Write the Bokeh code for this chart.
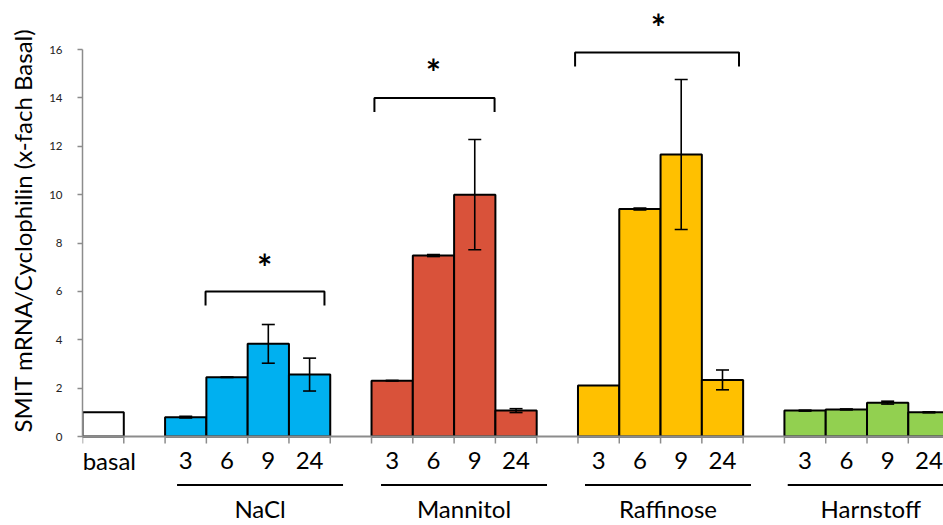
from bokeh.plotting import figure
from bokeh.models import Range1d, FixedTicker, Title
from bokeh.core.properties import value
from bokeh.embed import file_html
from bokeh.resources import INLINE

# ---------------- data ----------------
groups = ["NaCl", "Mannitol", "Raffinose", "Harnstoff"]
times = ["3", "6", "9", "24"]
basal_label = "basal"
basal_value = 1.0

nacl = [0.80, 2.45, 3.83, 2.56]
nacl_err = [0.03, 0.01, 0.80, 0.68]
mannitol = [2.31, 7.48, 10.00, 1.07]
mannitol_err = [0.01, 0.04, 2.28, 0.08]
raffinose = [2.11, 9.41, 11.66, 2.34]
raffinose_err = [0.00, 0.04, 3.10, 0.41]
harnstoff = [1.07, 1.12, 1.40, 1.00]
harnstoff_err = [0.02, 0.02, 0.06, 0.02]

y_ticks = [0, 2, 4, 6, 8, 10, 12, 14, 16]
y_label = "SMIT mRNA/Cyclophilin (x-fach Basal)"
sig_mark = "*"

# significance brackets (x in slot units, y in data units)
brackets = [
    dict(x0=2.98, x1=5.86, y=6.00, star_x=4.41, star_y=7.28),
    dict(x0=7.07, x1=9.98, y=14.00, star_x=8.50, star_y=15.34),
    dict(x0=11.93, x1=15.90, y=15.88, star_x=13.95, star_y=17.20),
]
group_line_offsets = [0.29, 0.23, 0.17, 0.08]

# ---------------- layout constants ----------------
W, H = 943, 525
LEFT = 82           # frame left edge (px)
SW = 41.29          # slot width (px)
AX_Y = 436          # y pixel of value 0
PX = (436 - 49) / 16.0  # px per unit

FONT = "Lato"
colors = ["#00B0F0", "#D9523A", "#FFC000", "#92D050"]
AXIS_COL = "#8C8C8C"

def py(pix):
    """convert canvas pixel y to data value"""
    return (AX_Y - pix) / PX

x_range = Range1d(0, (W - LEFT) / SW)
y_range = Range1d(py(H), py(0))

p = figure(width=W, height=H, x_range=x_range, y_range=y_range,
           output_backend="svg", toolbar_location=None, x_axis_type=None,
           min_border_left=LEFT, min_border_right=0, min_border_top=0,
           min_border_bottom=0)
p.outline_line_color = None
p.grid.visible = False
p.background_fill_color = "white"
p.border_fill_color = "white"

# y axis
ya = p.yaxis[0]
ya.bounds = (0, 16)
ya.ticker = FixedTicker(ticks=y_ticks)
ya.major_tick_out = 5
ya.major_tick_in = 0
ya.minor_tick_out = 0
ya.minor_tick_in = 0
ya.axis_line_color = AXIS_COL
ya.axis_line_width = 1.5
ya.major_tick_line_color = AXIS_COL
ya.major_tick_line_width = 1.5
ya.major_label_text_font = FONT
ya.major_label_text_font_size = "11.5px"
ya.major_label_text_color = "#222222"
ya.major_label_standoff = 15

# y axis title as a left-side title
p.add_layout(Title(text=y_label, align="left", offset=93,
                   vertical_align="top",
                   text_font=FONT, text_font_size="24px",
                   text_font_style="normal", text_color="black",
                   standoff=15), "left")

# ---------------- bars ----------------
series = [nacl, mannitol, raffinose, harnstoff]
errs = [nacl_err, mannitol_err, raffinose_err, harnstoff_err]

left = [0.0]
right = [1.0]
top = [basal_value]
fill = ["white"]
ex, elo, ehi = [], [], []
cat_x, cat_t = [0.65], [basal_label]
for g, (vals, er) in enumerate(zip(series, errs)):
    start = 2 + 5 * g
    for i, (v, e) in enumerate(zip(vals, er)):
        left.append(start + i)
        right.append(start + i + 1)
        top.append(v)
        fill.append(colors[g])
        cat_x.append(start + i + 0.5)
        cat_t.append(times[i])
        if e > 0:
            ex.append(start + i + 0.5)
            elo.append(v - e)
            ehi.append(v + e)

p.quad(left=left, right=right, bottom=0, top=top, fill_color=fill,
       line_color="black", line_width=2)

# error bars
cap = 6.5 / SW
p.segment(x0=ex, x1=ex, y0=elo, y1=ehi, line_color="black", line_width=1.6)
p.segment(x0=[x - cap for x in ex], x1=[x + cap for x in ex], y0=elo, y1=elo,
          line_color="black", line_width=1.6)
p.segment(x0=[x - cap for x in ex], x1=[x + cap for x in ex], y0=ehi, y1=ehi,
          line_color="black", line_width=1.6)

# x baseline and tick marks
n_slots = 21
p.segment(x0=[0], x1=[n_slots], y0=[0], y1=[0], line_color=AXIS_COL, line_width=1.8)
tx = list(range(n_slots))
p.segment(x0=tx, x1=tx, y0=[0] * n_slots, y1=[-7 / PX] * n_slots,
          line_color=AXIS_COL, line_width=1.5)

# category labels
p.text(x=cat_x, y=[py(460)] * len(cat_x), text=cat_t, text_font=value(FONT),
       text_font_size="24px", text_align="center", text_baseline="middle",
       text_color="black")

# group lines and labels
gl_x0, gl_x1, gc = [], [], []
for g, off in enumerate(group_line_offsets):
    s = 2 + 5 * g + off
    gl_x0.append(s)
    gl_x1.append(s + 4.02)
    gc.append(s + 2.01)
p.segment(x0=gl_x0, x1=gl_x1, y0=[py(484.5)] * 4, y1=[py(484.5)] * 4,
          line_color="black", line_width=2)
p.text(x=gc, y=[py(508)] * 4, text=groups, text_font=value(FONT),
       text_font_size="24px", text_align="center", text_baseline="middle",
       text_color="black")

# significance brackets
leg = 14 / PX
for b in brackets:
    p.line(x=[b["x0"], b["x0"], b["x1"], b["x1"]],
           y=[b["y"] - leg, b["y"], b["y"], b["y"] - leg],
           line_color="black", line_width=2)
star_shift = 7 / PX   # glyph sits above the text's middle line
p.text(x=[b["star_x"] for b in brackets],
       y=[b["star_y"] - star_shift for b in brackets],
       text=[sig_mark] * len(brackets), text_font=value(FONT),
       text_font_size="36px", text_font_style="bold", text_align="center",
       text_baseline="middle", text_color="black")

open("out.html", "w").write(file_html(p, INLINE))
